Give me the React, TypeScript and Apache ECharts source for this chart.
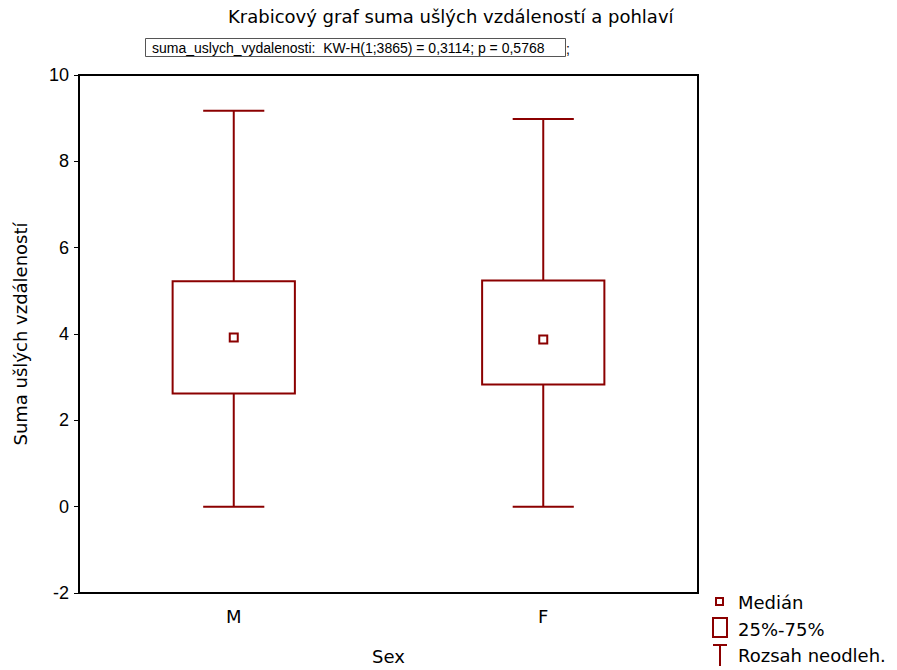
import React, { useEffect, useRef } from "react";
import * as echarts from "echarts";

const categories = ["M", "F"];
const whiskerMin = [0, 0];
const q1Values = [2.62, 2.83];
const medianValues = [3.92, 3.87];
const q3Values = [5.22, 5.24];
const whiskerMax = [9.17, 8.98];
const yTicks = { min: -2, max: 10, interval: 2 };

const RED = "#8B0000";
const FONT = "Liberation Sans, Arial, sans-serif";
const WIDE = "DejaVu Sans, sans-serif";

export default function App() {
  const ref = useRef<HTMLDivElement>(null);
  useEffect(() => {
    const chart = echarts.init(ref.current!, null, { renderer: "svg" });
    const boxData = categories.map((_, i) => [
      i,
      whiskerMin[i],
      q1Values[i],
      medianValues[i],
      q3Values[i],
      whiskerMax[i],
    ]);
    const medianData = categories.map((c, i) => [c, medianValues[i]]);
    chart.setOption({
      animation: false,
      textStyle: { fontFamily: FONT },
      grid: {
        left: 79,
        right: 199,
        top: 75,
        bottom: 76,
        show: true,
        borderColor: "#000",
        borderWidth: 2,
        backgroundColor: "transparent",
      },
      xAxis: {
        type: "category",
        data: categories,
        boundaryGap: true,
        name: "Sex",
        nameLocation: "middle",
        nameGap: 54,
        nameTextStyle: { fontSize: 18, color: "#000", fontFamily: WIDE },
        axisLine: { onZero: false, lineStyle: { color: "#000", width: 2 } },
        axisTick: { inside: true, alignWithLabel: true, length: 4, lineStyle: { color: "#000" } },
        axisLabel: { fontSize: 18, color: "#000", margin: 14, fontFamily: WIDE },
        splitLine: { show: false },
      },
      yAxis: {
        type: "value",
        min: yTicks.min,
        max: yTicks.max,
        interval: yTicks.interval,
        name: "Suma ušlých vzdáleností",
        nameLocation: "middle",
        nameGap: 50,
        nameRotate: 90,
        nameTextStyle: { fontSize: 18, color: "#000", fontFamily: WIDE },
        axisLine: { show: true, lineStyle: { color: "#000", width: 2 } },
        axisTick: { show: true, inside: false, length: 5, lineStyle: { color: "#000" } },
        axisLabel: { fontSize: 18, color: "#000", margin: 10, fontFamily: FONT },
        splitLine: { show: false },
      },
      series: [
        {
          type: "custom",
          data: boxData,
          encode: { x: 0, y: [1, 2, 3, 4, 5] },
          renderItem: (params: any, api: any) => {
            const idx = api.value(0);
            const band = api.size([1, 0])[0];
            const boxW = band * 0.395;
            const capW = boxW / 2;
            const pMin = api.coord([idx, api.value(1)]);
            const pQ1 = api.coord([idx, api.value(2)]);
            const pQ3 = api.coord([idx, api.value(4)]);
            const pMax = api.coord([idx, api.value(5)]);
            const x = pMin[0];
            const ls = { stroke: RED, lineWidth: 2, fill: "none" };
            return {
              type: "group",
              children: [
                { type: "line", shape: { x1: x, y1: pMin[1], x2: x, y2: pQ1[1] }, style: ls },
                { type: "line", shape: { x1: x, y1: pQ3[1], x2: x, y2: pMax[1] }, style: ls },
                { type: "line", shape: { x1: x - capW / 2, y1: pMin[1], x2: x + capW / 2, y2: pMin[1] }, style: ls },
                { type: "line", shape: { x1: x - capW / 2, y1: pMax[1], x2: x + capW / 2, y2: pMax[1] }, style: ls },
                {
                  type: "rect",
                  shape: { x: x - boxW / 2, y: pQ3[1], width: boxW, height: pQ1[1] - pQ3[1] },
                  style: { stroke: RED, lineWidth: 2, fill: "#fff" },
                },
              ],
            };
          },
          z: 2,
        },
        {
          type: "scatter",
          data: medianData,
          symbol: "rect",
          symbolSize: 8,
          itemStyle: { color: "#fff", borderColor: RED, borderWidth: 2, opacity: 1 },
          z: 3,
        },
      ],
      graphic: [
        {
          type: "text",
          x: 228,
          y: 16,
          style: {
            text: "Krabicový graf suma ušlých vzdáleností a pohlaví",
            font: `18px ${WIDE}`,
            fill: "#000",
            verticalAlign: "middle",
          },
        },
        {
          type: "rect",
          shape: { x: 145.5, y: 38.5, width: 420, height: 18 },
          style: { fill: "#fff", stroke: "#555", lineWidth: 1 },
        },
        {
          type: "text",
          x: 152,
          y: 47.5,
          style: {
            text: "suma_uslych_vydalenosti:  KW-H(1;3865) = 0,3114; p = 0,5768",
            font: `14px ${FONT}`,
            fill: "#000",
            verticalAlign: "middle",
          },
        },
        {
          type: "text",
          x: 566,
          y: 49,
          style: { text: ";", font: `14px ${FONT}`, fill: "#000", verticalAlign: "middle" },
        },
        // legend
        {
          type: "rect",
          shape: { x: 716, y: 598, width: 7, height: 7 },
          style: { fill: "#fff", stroke: RED, lineWidth: 2 },
        },
        {
          type: "text",
          x: 738,
          y: 602,
          style: { text: "Medián", font: `18px ${WIDE}`, fill: "#000", verticalAlign: "middle" },
        },
        {
          type: "rect",
          shape: { x: 713, y: 618, width: 14, height: 19 },
          style: { fill: "#fff", stroke: RED, lineWidth: 2 },
        },
        {
          type: "text",
          x: 738,
          y: 629,
          style: { text: "25%-75%", font: `18px ${WIDE}`, fill: "#000", verticalAlign: "middle" },
        },
        { type: "line", shape: { x1: 713, y1: 645, x2: 727, y2: 645 }, style: { stroke: RED, lineWidth: 2 } },
        { type: "line", shape: { x1: 720, y1: 645, x2: 720, y2: 666 }, style: { stroke: RED, lineWidth: 2 } },
        {
          type: "text",
          x: 738,
          y: 655,
          style: { text: "Rozsah neodleh.", font: `18px ${WIDE}`, fill: "#000", verticalAlign: "middle" },
        },
      ],
    });
    return () => chart.dispose();
  }, []);
  return <div ref={ref} style={{ width: 897, height: 670, position: "absolute", left: 0, top: 0 }} />;
}
